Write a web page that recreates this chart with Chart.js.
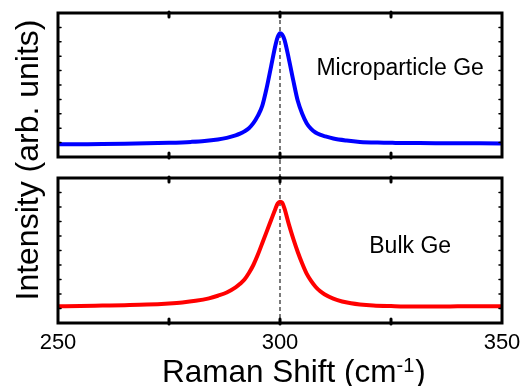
<!DOCTYPE html>
<html><head><meta charset="utf-8">
<script src="https://cdn.jsdelivr.net/npm/chart.js@4"></script>
<style>html,body{margin:0;padding:0;background:#fff}#wrap{position:relative;width:531px;height:386px}</style>
</head><body><div id="wrap"><canvas id="c" width="531" height="386"></canvas></div>
<script>
const xTicks = [250, 300, 350];
const majorTicks = [275, 300, 325];
const microX = [250,255,260,265,270,275,280,283,286,288,290,291,292,293,294,295,296,297,298,299,299.5,300,300.5,301,302,303,304,305,306,307,308,309,310,312,315,318,322,326,330,335,340,345,350];
const microY = [0.088,0.089,0.090,0.092,0.095,0.099,0.105,0.111,0.122,0.133,0.150,0.162,0.178,0.200,0.235,0.285,0.355,0.480,0.630,0.780,0.835,0.860,0.850,0.815,0.680,0.530,0.390,0.300,0.235,0.195,0.170,0.155,0.145,0.128,0.114,0.105,0.100,0.098,0.097,0.096,0.096,0.095,0.094];
const bulkX = [250,255,260,265,270,275,278,281,284,286,288,290,291,292,293,294,295,296,297,298,299,299.5,300,300.5,301,302,303,304,305,306,307,308,309,310,312,314,316,318,321,325,330,335,340,345,350];
const bulkY = [0.115,0.117,0.120,0.123,0.127,0.135,0.142,0.153,0.170,0.188,0.210,0.245,0.270,0.300,0.345,0.400,0.470,0.550,0.630,0.710,0.790,0.825,0.837,0.830,0.790,0.680,0.580,0.490,0.410,0.340,0.290,0.250,0.220,0.198,0.168,0.148,0.136,0.128,0.121,0.117,0.114,0.114,0.115,0.116,0.116];
const peakLine = 300;
const panelLabels = ['Microparticle Ge', 'Bulk Ge'];
const labelPos = [[308.2, 0.57], [320.1, 0.485]];
const yTitle = 'Intensity (arb. units)';
const xTitleParts = ['Raman Shift (cm', '-1', ')'];

const FONT = '"Liberation Sans", Arial, Helvetica, sans-serif';

const toPts = (xs, ys) => xs.map((x, i) => ({x: x, y: ys[i]}));

const framePlugin = {
  id: 'frame',
  beforeDatasetsDraw(chart) {
    const ctx = chart.ctx, xs = chart.scales.x, ca = chart.chartArea;
    const px = xs.getPixelForValue(peakLine);
    ctx.save();
    ctx.strokeStyle = '#222';
    ctx.lineWidth = 1.2;
    ctx.setLineDash([4, 3]);
    ctx.beginPath();
    ctx.moveTo(px, ca.top);
    ctx.lineTo(px, ca.bottom);
    ctx.stroke();
    ctx.restore();
  },
  afterDatasetsDraw(chart) {
    const ctx = chart.ctx, xs = chart.scales.x;
    ctx.save();
    ['yTop', 'yBot'].forEach((id, k) => {
      const s = chart.scales[id];
      const l = xs.left, r = xs.right, t = s.top, b = s.bottom;
      ctx.strokeStyle = '#000';
      ctx.lineWidth = 3;
      ctx.setLineDash([]);
      ctx.strokeRect(l, t, r - l, b - t);
      ctx.lineCap = 'round';
      majorTicks.forEach(v => {
        const p = xs.getPixelForValue(v);
        ctx.lineWidth = 3;
        ctx.beginPath(); ctx.moveTo(p, t - 1); ctx.lineTo(p, t + 4); ctx.stroke();
        ctx.beginPath(); ctx.moveTo(p, b + 1); ctx.lineTo(p, b - 4); ctx.stroke();
      });
      ctx.lineWidth = 1.5;
      s.ticks.forEach(tk => {
        const py = s.getPixelForValue(tk.value);
        ctx.beginPath(); ctx.moveTo(l, py); ctx.lineTo(l + 3, py); ctx.stroke();
        ctx.beginPath(); ctx.moveTo(r, py); ctx.lineTo(r - 3, py); ctx.stroke();
      });
      ctx.lineCap = 'butt';
      ctx.fillStyle = '#000';
      ctx.font = '23px ' + FONT;
      ctx.textAlign = 'left';
      ctx.textBaseline = 'alphabetic';
      ctx.fillText(panelLabels[k], xs.getPixelForValue(labelPos[k][0]), s.getPixelForValue(labelPos[k][1]));
    });
    ctx.save();
    ctx.translate(29, 160);
    ctx.rotate(-Math.PI / 2);
    ctx.font = '32px ' + FONT;
    ctx.textAlign = 'center';
    ctx.textBaseline = 'middle';
    ctx.fillStyle = '#000';
    ctx.fillText(yTitle, 0, 0);
    ctx.restore();
    ctx.fillStyle = '#000';
    ctx.textAlign = 'left';
    ctx.textBaseline = 'alphabetic';
    let x0 = 162;
    ctx.font = '31.5px ' + FONT;
    ctx.fillText(xTitleParts[0], x0, 382);
    x0 += ctx.measureText(xTitleParts[0]).width;
    ctx.font = '20px ' + FONT;
    ctx.fillText(xTitleParts[1], x0, 372);
    x0 += ctx.measureText(xTitleParts[1]).width + 1;
    ctx.font = '31.5px ' + FONT;
    ctx.fillText(xTitleParts[2], x0, 382);
    ctx.restore();
  }
};

const hiddenY = (w) => ({
  type: 'linear', position: 'left', stack: 'panels', stackWeight: w,
  min: 0, max: 1,
  ticks: {display: false, stepSize: 0.1},
  grid: {display: false, drawTicks: false},
  border: {display: false},
  afterFit(s) { s.width = 58; }
});

new Chart(document.getElementById('c'), {
  type: 'line',
  data: {
    datasets: [
      {data: toPts(microX, microY), yAxisID: 'yTop', borderColor: '#0000ff', borderWidth: 4, pointRadius: 0, cubicInterpolationMode: 'monotone', fill: false},
      {data: toPts(bulkX, bulkY), yAxisID: 'yBot', borderColor: '#ff0000', borderWidth: 4, pointRadius: 0, cubicInterpolationMode: 'monotone', fill: false}
    ]
  },
  options: {
    responsive: false,
    animation: false,
    devicePixelRatio: 1,
    layout: {padding: {left: 0, right: 29, top: 13, bottom: 0}},
    plugins: {legend: {display: false}, tooltip: {enabled: false}},
    scales: {
      x: {
        type: 'linear', min: 250, max: 350,
        afterBuildTicks(s) { s.ticks = xTicks.map(v => ({value: v})); },
        ticks: {font: {size: 22, family: FONT}, color: '#000', padding: 7, maxRotation: 0},
        grid: {display: false, drawTicks: false},
        border: {display: false},
        afterFit(s) { s.height = 63; }
      },
      yBot: hiddenY(145),
      yGap: hiddenY(21),
      yTop: hiddenY(144)
    }
  },
  plugins: [framePlugin]
});
</script>
</body></html>
